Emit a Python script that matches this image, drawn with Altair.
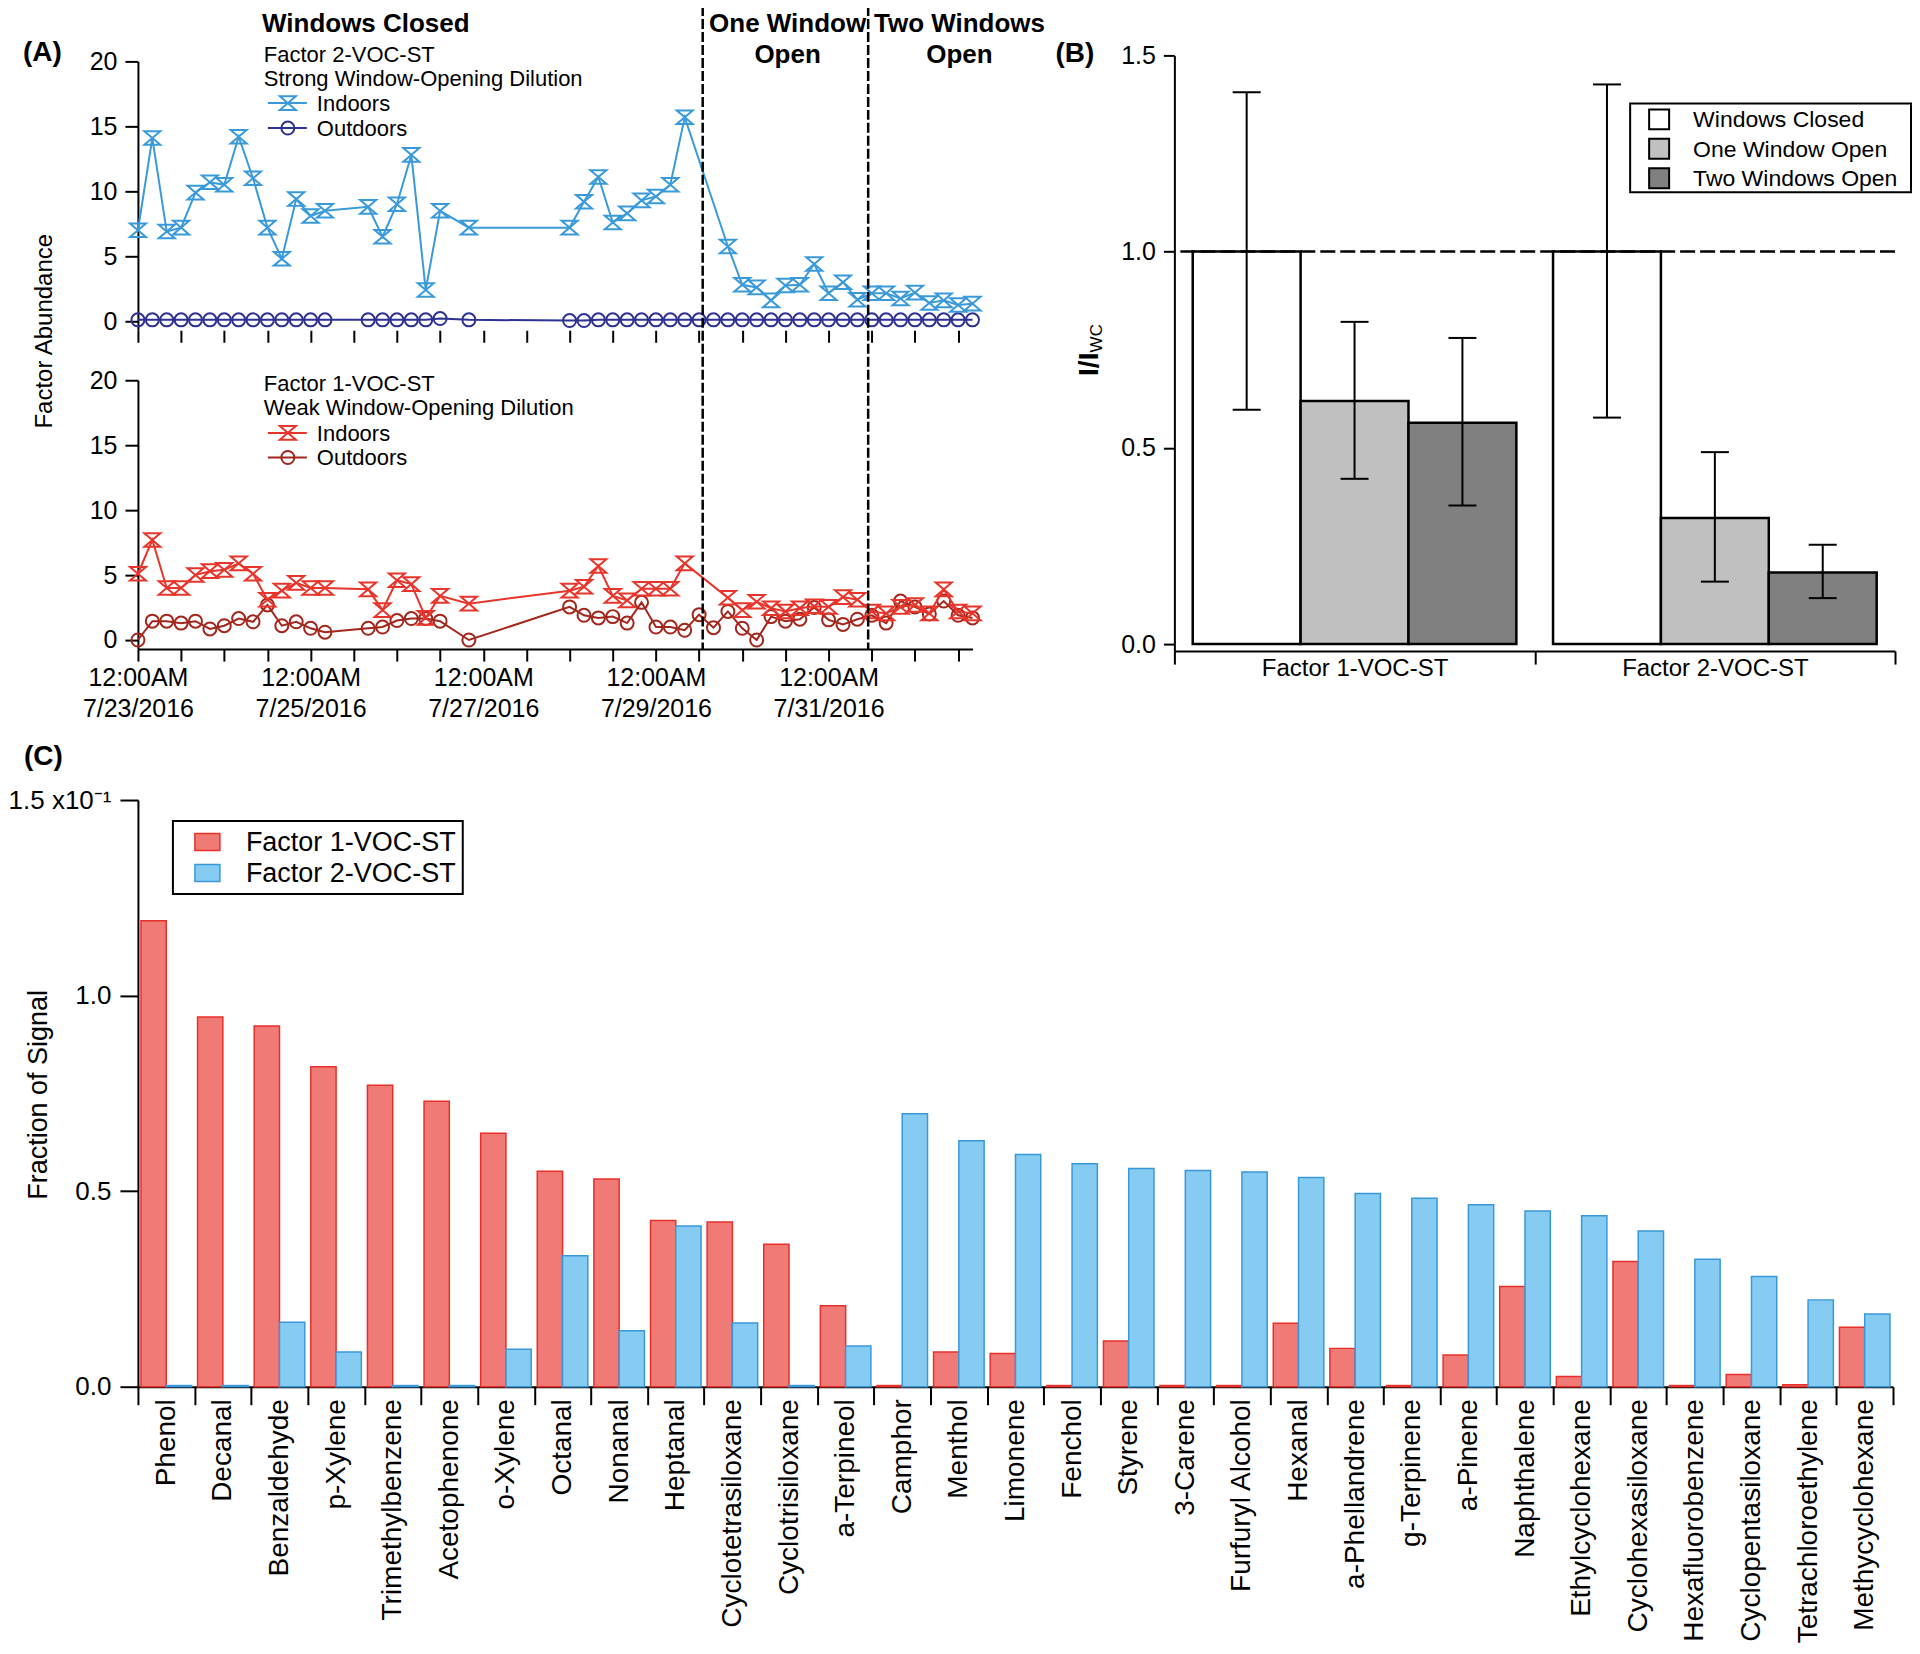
import altair as alt
import pandas as pd

FONT = "Liberation Sans"

# ---------------- Panel A data (hours after 12:00AM 7/23/2016) ----------------
tick_hours = [0, 12, 24, 36, 48, 60, 72, 84, 96, 108, 120, 132, 144, 156, 168, 180, 192, 204, 216, 228]
period_bounds = [157, 203]
hours_wc = [0, 4, 8, 12, 16, 20, 24, 28, 32, 36, 40, 44, 48, 52, 64, 68, 72, 76, 80, 84, 92,
            120, 124, 128, 132, 136, 140, 144, 148, 152]
hours_in_open = [164, 168, 172, 176, 180, 184, 188, 192, 196, 200, 204, 208, 212, 216, 220, 224, 228, 232]
hours_out_open = [156, 160, 164, 168, 172, 176, 180, 184, 188, 192, 196, 200, 204, 208, 212, 216, 220, 224, 228, 232]

f2_in_wc = [7.0, 14.1, 6.9, 7.2, 9.9, 10.7, 10.5, 14.2, 11.0, 7.2, 4.8, 9.4, 8.1, 8.5,
            8.8, 6.5, 9.0, 12.8, 2.4, 8.5, 7.2,
            7.2, 9.2, 11.1, 7.6, 8.3, 9.3, 9.6, 10.5, 15.7]
f2_in_open = [5.75, 2.8, 2.6, 1.6, 2.75, 2.8, 4.4, 2.15, 3.0, 1.65, 2.15, 2.15, 1.75, 2.2, 1.4, 1.6, 1.25, 1.35]
f2_out_wc = [0.1, 0.1, 0.1, 0.1, 0.1, 0.1, 0.1, 0.1, 0.1, 0.1, 0.1, 0.1, 0.1, 0.1,
             0.1, 0.1, 0.1, 0.1, 0.1, 0.2, 0.1,
             0.05, 0.05, 0.1, 0.1, 0.1, 0.1, 0.1, 0.1, 0.1]
f2_out_open = [0.1, 0.1, 0.1, 0.1, 0.1, 0.1, 0.1, 0.1, 0.1, 0.1, 0.1, 0.1, 0.1, 0.1, 0.1, 0.1, 0.1, 0.1, 0.1, 0.1]

f1_in_wc = [5.1, 7.7, 4.0, 4.0, 5.0, 5.3, 5.4, 5.9, 5.1, 3.1, 3.8, 4.4, 4.0, 4.0,
            3.9, 2.3, 4.6, 4.3, 1.7, 3.4, 2.8,
            3.8, 4.1, 5.7, 3.4, 3.05, 3.95, 3.95, 3.95, 5.9]
f1_in_open = [3.25, 2.3, 2.95, 2.45, 2.2, 2.45, 2.6, 2.55, 3.3, 3.1, 2.2, 2.05, 2.55, 2.7, 2.05, 3.9, 2.2, 2.05]
f1_out_wc = [0.0, 1.45, 1.45, 1.3, 1.45, 0.85, 1.1, 1.65, 1.4, 2.7, 1.1, 1.4, 0.9, 0.6,
             0.9, 1.0, 1.5, 1.65, 1.65, 1.45, 0.0,
             2.55, 1.9, 1.7, 1.8, 1.3, 2.9, 1.0, 1.0, 0.75]
f1_out_open = [1.95, 0.95, 2.2, 0.9, 0.0, 1.8, 1.45, 1.6, 2.5, 1.55, 1.2, 1.6, 1.9, 1.3, 3.0, 2.55, 2.0, 3.0, 1.9, 1.7]

# ---------------- Panel B data ----------------
factors = ["Factor 1-VOC-ST", "Factor 2-VOC-ST"]
conditions = ["Windows Closed", "One Window Open", "Two Windows Open"]
f1_ratio = [1.0, 0.619, 0.564]
f1_lo = [0.597, 0.421, 0.353]
f1_hi = [1.406, 0.821, 0.780]
f2_ratio = [1.0, 0.321, 0.182]
f2_lo = [0.577, 0.159, 0.117]
f2_hi = [1.426, 0.489, 0.253]

# ---------------- Panel C data ----------------
compounds = ["Phenol", "Decanal", "Benzaldehyde", "p-Xylene", "Trimethylbenzene", "Acetophenone",
             "o-Xylene", "Octanal", "Nonanal", "Heptanal", "Cyclotetrasiloxane", "Cyclotrisiloxane",
             "a-Terpineol", "Camphor", "Menthol", "Limonene", "Fenchol", "Styrene", "3-Carene",
             "Furfuryl Alcohol", "Hexanal", "a-Phellandrene", "g-Terpinene", "a-Pinene", "Naphthalene",
             "Ethylcyclohexane", "Cyclohexasiloxane", "Hexafluorobenzene", "Cyclopentasiloxane",
             "Tetrachloroethylene", "Methycyclohexane"]
frac_f1 = [0.1191, 0.0945, 0.0922, 0.0818, 0.0771, 0.0730, 0.0648, 0.0551, 0.0531, 0.0425, 0.0421,
           0.0364, 0.0207, 0.0003, 0.0089, 0.0085, 0.0003, 0.0117, 0.0003, 0.0003, 0.0162, 0.0098,
           0.0003, 0.0081, 0.0256, 0.0026, 0.0320, 0.0003, 0.0031, 0.0005, 0.0152]
frac_f2 = [0.0003, 0.0003, 0.0165, 0.0089, 0.0003, 0.0003, 0.0096, 0.0335, 0.0143, 0.0411, 0.0163,
           0.0003, 0.0104, 0.0698, 0.0629, 0.0594, 0.0570, 0.0558, 0.0553, 0.0549, 0.0535, 0.0494,
           0.0482, 0.0465, 0.0449, 0.0437, 0.0398, 0.0326, 0.0282, 0.0222, 0.0186]

# ---------------- styles ----------------
IND_BLUE = "#3a9ad9"
OUT_NAVY = "#2e3192"
IND_RED = "#e8352b"
OUT_RED = "#a3261c"
C_RED_FILL, C_RED_STROKE = "#f07a76", "#e8302a"
C_BLUE_FILL, C_BLUE_STROKE = "#86ccf2", "#3a98d8"
B_FILLS = ["#ffffff", "#c0c0c0", "#808080"]
HOURGLASS = "M-1,-0.85L1,-0.85L-1,0.85L1,0.85Z"

one = pd.DataFrame({"k": [0]})


def txt(x, y, s, size, weight="normal", align="left", baseline="middle", angle=None, line_height=None):
    kw = dict(font=FONT, fontSize=size, fontWeight=weight, align=align, baseline=baseline, color="black")
    if angle is not None:
        kw["angle"] = angle
    if line_height is not None:
        kw["lineHeight"] = line_height
    return alt.Chart(one).mark_text(**kw).encode(x=alt.value(x), y=alt.value(y), text=alt.value(s))


def anchor(x1, y1, x2, y2):
    return alt.Chart(one).mark_rule(opacity=0, strokeWidth=1, color="white").encode(
        x=alt.value(x1), y=alt.value(y1), x2=alt.value(x2), y2=alt.value(y2))


TOP = -51  # common top extent of the first row (relative to the plot tops)

# ---------------- Panel A (one view, two stacked y scales) ----------------
WA, HA = 835, 594
xscaleA = alt.Scale(domain=[0, 232], nice=False, zero=False)
yscale_top = alt.Scale(domain=[-0.7, 20], range=[275, 6], nice=False, zero=False)
yscale_bot = alt.Scale(domain=[-0.7, 20], range=[594, 325], nice=False, zero=False)
axis_yA = alt.Axis(values=[0, 5, 10, 15, 20], title=None, orient="left", tickSize=13, labelPadding=8,
                   labelFontSize=25, labelFlush=False, labelOverlap=False, grid=False)
axis_x_top = alt.Axis(values=tick_hours, title=None, orient="bottom", offset=-319, labels=False,
                      domain=False, tickSize=12, grid=False)
axis_x_bot = alt.Axis(values=tick_hours, title=None, orient="bottom",
                      labelExpr="datum.value % 48 === 0 ? ['12:00AM', '7/' + (23 + datum.value / 24) + '/2016'] : ''",
                      labelFontSize=25, labelLineHeight=31, tickSize=12, labelPadding=4,
                      labelFlush=False, labelOverlap=False, grid=False)


def series_layers(hours, vals, color, shape, size, yscale, xaxis=None, yaxis=None):
    df = pd.DataFrame({"hour": hours, "value": vals})
    line = alt.Chart(df).mark_line(color=color, strokeWidth=2).encode(
        x=alt.X("hour:Q", scale=xscaleA, axis=xaxis),
        y=alt.Y("value:Q", scale=yscale, axis=yaxis))
    pts = alt.Chart(df).mark_point(shape=shape, size=size, filled=False, color=color, strokeWidth=2,
                                   opacity=1).encode(
        x=alt.X("hour:Q", scale=xscaleA, axis=None),
        y=alt.Y("value:Q", scale=yscale, axis=None))
    return [line, pts]


def legend_row(y, label, color, shape, size):
    seg = alt.Chart(one).mark_rule(color=color, strokeWidth=2).encode(
        x=alt.value(130), x2=alt.value(169), y=alt.value(y))
    sym = alt.Chart(one).mark_point(shape=shape, size=size, filled=False, color=color, strokeWidth=2,
                                    opacity=1).encode(x=alt.value(150), y=alt.value(y))
    return [seg, sym, txt(179, y + 1, label, 22)]


bounds_df = pd.DataFrame({"hour": period_bounds})
dashed = alt.Chart(bounds_df).mark_rule(color="black", strokeWidth=2.5, strokeDash=[10, 3]).encode(
    x=alt.X("hour:Q", scale=xscaleA, axis=None), y=alt.value(TOP + 1.5), y2=alt.value(594))

a_layers = (
    series_layers(hours_wc + hours_out_open, f2_out_wc + f2_out_open, OUT_NAVY, "circle", 169,
                  yscale_top, xaxis=axis_x_top, yaxis=axis_yA)
    + series_layers(hours_wc + hours_in_open, f2_in_wc + f2_in_open, IND_BLUE, HOURGLASS, 256, yscale_top)
    + series_layers(hours_wc + hours_out_open, f1_out_wc + f1_out_open, OUT_RED, "circle", 169,
                    yscale_bot, xaxis=axis_x_bot, yaxis=axis_yA)
    + series_layers(hours_wc + hours_in_open, f1_in_wc + f1_in_open, IND_RED, HOURGLASS, 256, yscale_bot)
    + [dashed,
       txt(-115, -2.5, "(A)", 28, weight="bold"),
       txt(228, -31, "Windows Closed", 26, weight="bold", align="center"),
       txt(650, -31, ["One Window", "Open"], 26, weight="bold", align="center", line_height=31),
       txt(822, -31, ["Two Windows", "Open"], 26, weight="bold", align="center", line_height=31),
       txt(-92.5, 276, "Factor Abundance", 24, align="center", angle=270),
       txt(126, -0.5, "Factor 2-VOC-ST", 22),
       txt(126, 24, "Strong Window-Opening Dilution", 22),
       txt(126, 328.5, "Factor 1-VOC-ST", 22),
       txt(126, 353, "Weak Window-Opening Dilution", 22)]
    + legend_row(47.7, "Indoors", IND_BLUE, HOURGLASS, 256)
    + legend_row(72.7, "Outdoors", OUT_NAVY, "circle", 169)
    + legend_row(377.7, "Indoors", IND_RED, HOURGLASS, 256)
    + legend_row(402.3, "Outdoors", OUT_RED, "circle", 169)
    + [anchor(-128, TOP, 912, 675)]
)
A = alt.layer(*a_layers).resolve_scale(y="independent").resolve_axis(
    x="independent", y="independent").properties(width=WA, height=HA)

# ---------------- Panel B ----------------
WB, HB = 721, 596
dfB = pd.DataFrame({
    "factor": [factors[0]] * 3 + [factors[1]] * 3,
    "cond": conditions + conditions,
    "ratio": f1_ratio + f2_ratio,
    "lo": f1_lo + f2_lo,
    "hi": f1_hi + f2_hi,
})
yscaleB = alt.Scale(domain=[-0.018, 1.5], nice=False, zero=False)
axis_yB = alt.Axis(values=[0, 0.5, 1.0, 1.5], format=".1f", title=None, tickSize=11, labelPadding=8,
                   labelFontSize=25, labelFlush=False, labelOverlap=False, grid=False)
xB = alt.X("factor:N", sort=factors, scale=alt.Scale(domain=factors, paddingInner=0, paddingOuter=0),
           axis=alt.Axis(title=None, labelAngle=0, tickBand="extent", tickSize=13, labelPadding=-8,
                         labelFontSize=24, grid=False))
xoB = alt.XOffset("cond:N", sort=conditions,
                  scale=alt.Scale(domain=conditions, paddingInner=0, paddingOuter=0.17))

barsB = alt.Chart(dfB).mark_bar(stroke="black", strokeWidth=2.5, opacity=1).encode(
    x=xB, xOffset=xoB,
    y=alt.Y("ratio:Q", scale=yscaleB, axis=axis_yB), y2=alt.datum(0),
    color=alt.Color("cond:N", scale=alt.Scale(domain=conditions, range=B_FILLS), legend=None))
err_rule = alt.Chart(dfB).mark_rule(color="black", strokeWidth=2).encode(
    x=xB, xOffset=xoB, y=alt.Y("lo:Q", scale=yscaleB, axis=axis_yB), y2="hi:Q")
cap_lo = alt.Chart(dfB).mark_tick(color="black", thickness=2, size=28, opacity=1).encode(
    x=xB, xOffset=xoB, y=alt.Y("lo:Q", scale=yscaleB, axis=axis_yB))
cap_hi = alt.Chart(dfB).mark_tick(color="black", thickness=2, size=28, opacity=1).encode(
    x=xB, xOffset=xoB, y=alt.Y("hi:Q", scale=yscaleB, axis=axis_yB))
ref_line = alt.Chart(one).mark_rule(color="black", strokeWidth=2.5, strokeDash=[15, 5]).encode(
    y=alt.datum(1.0))

legB = [alt.Chart(one).mark_rect(fill="white", stroke="black", strokeWidth=2).encode(
    x=alt.value(456), x2=alt.value(737), y=alt.value(48), y2=alt.value(137))]
for i, (cond, fill) in enumerate(zip(conditions, B_FILLS)):
    yc = 64 + 29.5 * i
    legB.append(alt.Chart(one).mark_rect(fill=fill, stroke="black", strokeWidth=2).encode(
        x=alt.value(475), x2=alt.value(495), y=alt.value(yc - 10), y2=alt.value(yc + 10)))
    legB.append(txt(519, yc + 1, cond, 23))

B = alt.layer(
    barsB, ref_line, err_rule, cap_lo, cap_hi, *legB,
    txt(-119, -1, "(B)", 28, weight="bold"),
    txt(-84, 309, "I/I", 28, weight="bold", align="center", angle=270),
    txt(-77, 283, "WC", 17, align="center", angle=270),
    anchor(-125, TOP, 700, 675),
).properties(width=WB, height=HB)

# ---------------- Panel C ----------------
WC, HC = 1756, 587
facC = ["Factor 1-VOC-ST", "Factor 2-VOC-ST"]
dfC = pd.DataFrame({
    "compound": compounds + compounds,
    "factor": [facC[0]] * len(compounds) + [facC[1]] * len(compounds),
    "frac": frac_f1 + frac_f2,
})
xC = alt.X("compound:N", sort=compounds, scale=alt.Scale(domain=compounds, paddingInner=0, paddingOuter=0),
           axis=alt.Axis(title=None, labelAngle=270, labelAlign="right", labelBaseline="middle",
                         tickBand="extent", tickSize=18, labelPadding=-6, labelFontSize=28, grid=False))
xoC = alt.XOffset("factor:N", sort=facC, scale=alt.Scale(domain=facC, paddingInner=0, paddingOuter=0.12))
yC = alt.Y("frac:Q", scale=alt.Scale(domain=[0, 0.15], nice=False, zero=False),
           axis=alt.Axis(values=[0, 0.05, 0.10, 0.15], title=None, tickSize=18, labelPadding=9,
                         labelFontSize=26, labelFlush=False, labelOverlap=False, grid=False,
                         labelExpr="datum.value >= 0.149 ? '1.5 x10\u207b\u00b9' : format(datum.value * 10, '.1f')"))
barsC = alt.Chart(dfC).mark_bar(strokeWidth=1.5, opacity=1).encode(
    x=xC, xOffset=xoC, y=yC,
    color=alt.Color("factor:N", scale=alt.Scale(domain=facC, range=[C_RED_FILL, C_BLUE_FILL]), legend=None),
    stroke=alt.Stroke("factor:N", scale=alt.Scale(domain=facC, range=[C_RED_STROKE, C_BLUE_STROKE]), legend=None))

legC = [alt.Chart(one).mark_rect(fill="white", stroke="black", strokeWidth=2).encode(
    x=alt.value(35), x2=alt.value(325), y=alt.value(21), y2=alt.value(94))]
for i, (lab, fill, stroke) in enumerate(zip(facC, [C_RED_FILL, C_BLUE_FILL], [C_RED_STROKE, C_BLUE_STROKE])):
    yc = 42 + 31 * i
    legC.append(alt.Chart(one).mark_rect(fill=fill, stroke=stroke, strokeWidth=1.5).encode(
        x=alt.value(57), x2=alt.value(82), y=alt.value(yc - 8.5), y2=alt.value(yc + 8.5)))
    legC.append(txt(108, yc + 1, lab, 27))

C = alt.layer(
    barsC, *legC,
    txt(-114, -43, "(C)", 28, weight="bold"),
    txt(-99, 295, "Fraction of Signal", 27, align="center", angle=270),
    anchor(-128, -70, 1700, 0),
).properties(width=WC, height=HC)

row1 = alt.hconcat(A, B, spacing=0)
chart = alt.vconcat(row1, C, spacing=0).resolve_scale(
    color="independent", stroke="independent", xOffset="independent"
).properties(
    padding={"left": 0, "top": -4, "right": 0, "bottom": 0}
).configure_view(stroke=None).configure_axis(
    domainColor="black", tickColor="black", labelColor="black", labelFont=FONT,
    domainWidth=2, tickWidth=2, grid=False, labelLimit=0
)

chart.save("out.html", embed_options={"renderer": "svg", "actions": False})
